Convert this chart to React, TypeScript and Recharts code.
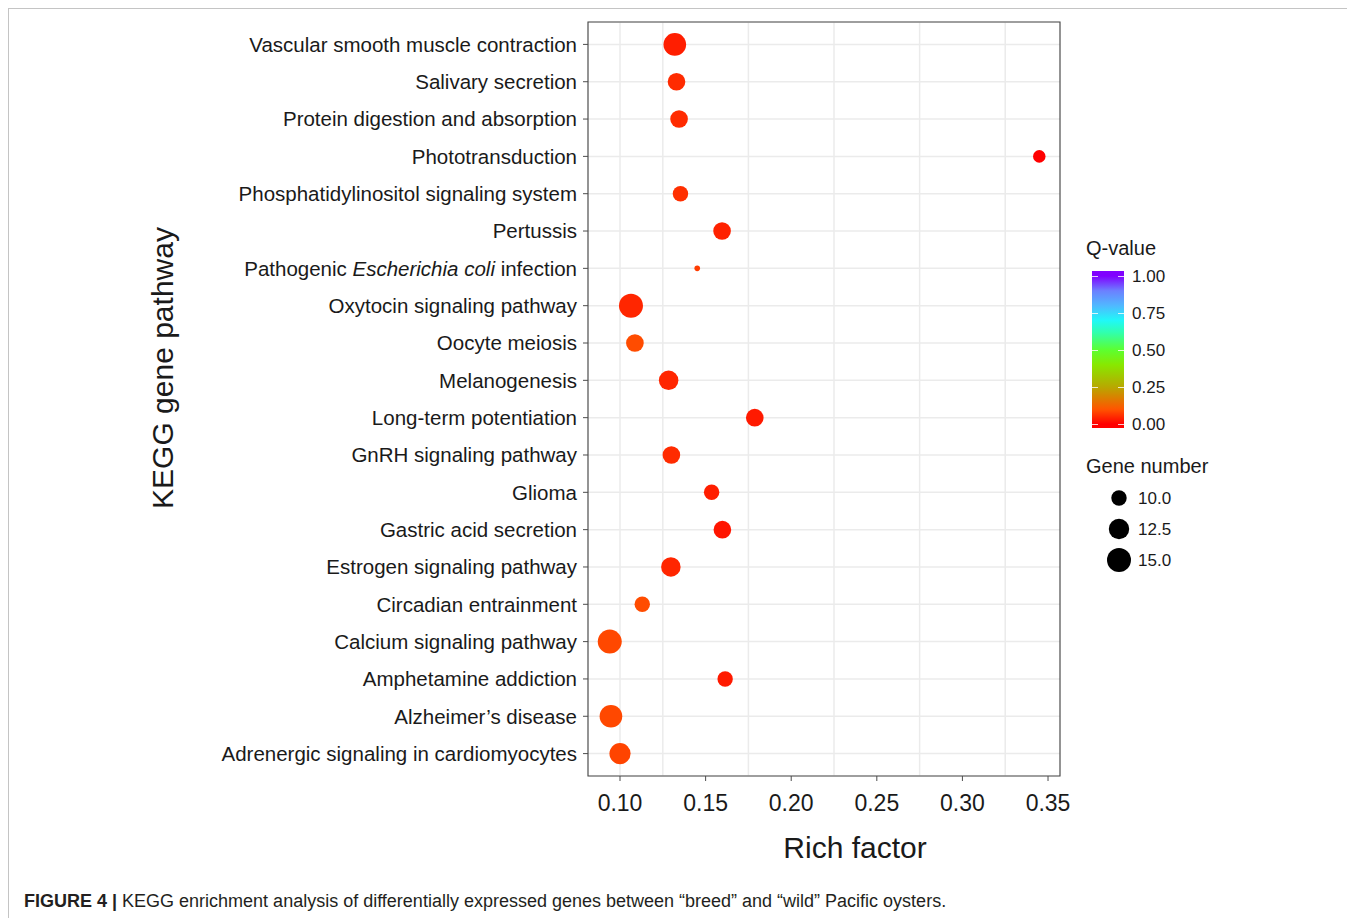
import React from "react"
import { ScatterChart, Scatter, XAxis, YAxis, CartesianGrid, ReferenceArea } from "recharts"

// pathways listed bottom -> top (y index 0 is the bottom row)
const pathways = [
  "Adrenergic signaling in cardiomyocytes",
  "Alzheimer’s disease",
  "Amphetamine addiction",
  "Calcium signaling pathway",
  "Circadian entrainment",
  "Estrogen signaling pathway",
  "Gastric acid secretion",
  "Glioma",
  "GnRH signaling pathway",
  "Long-term potentiation",
  "Melanogenesis",
  "Oocyte meiosis",
  "Oxytocin signaling pathway",
  "Pathogenic Escherichia coli infection",
  "Pertussis",
  "Phosphatidylinositol signaling system",
  "Phototransduction",
  "Protein digestion and absorption",
  "Salivary secretion",
  "Vascular smooth muscle contraction",
]

const richFactor = [
  0.100, 0.0947, 0.1614, 0.094, 0.113, 0.1297, 0.1598, 0.1535, 0.130, 0.1787,
  0.1284, 0.1087, 0.1064, 0.1451, 0.1596, 0.1353, 0.3449, 0.1345, 0.133, 0.132,
]

const geneNumber = [13, 14, 10, 15, 10, 12, 11, 10, 11, 11, 12, 11, 15, 8, 11, 10, 9, 11, 11, 14]

const qValue = [
  0.08, 0.085, 0.03, 0.085, 0.09, 0.045, 0.025, 0.035, 0.05, 0.03,
  0.045, 0.09, 0.045, 0.07, 0.04, 0.055, 0.0, 0.05, 0.05, 0.035,
]

const xMajor = [0.1, 0.15, 0.2, 0.25, 0.3, 0.35]
const xMinor = [0.125, 0.175, 0.225, 0.275, 0.325]
const xDomain = [0.0813, 0.357]
const qTicks = [0, 0.25, 0.5, 0.75, 1]
const geneLegend = [10, 12.5, 15]
const geneRange = [8, 15]

// Q-value colour ramp (red -> purple)
const colorStops: [number, string][] = [
  [0, "#ff0000"],
  [0.1, "#ff5500"],
  [0.25, "#b8a800"],
  [0.4, "#88e800"],
  [0.5, "#5cff30"],
  [0.62, "#30ffb0"],
  [0.7, "#20f8f8"],
  [0.8, "#50b8ff"],
  [0.9, "#6c80ff"],
  [1, "#8000ff"],
]

const hex = (c: string) => [1, 3, 5].map((i) => parseInt(c.slice(i, i + 2), 16))

const qColor = (q: number) => {
  for (let i = 1; i < colorStops.length; i++) {
    const [p1, c1] = colorStops[i]
    if (q <= p1) {
      const [p0, c0] = colorStops[i - 1]
      const t = (q - p0) / (p1 - p0)
      const a = hex(c0)
      const b = hex(c1)
      const m = a.map((v, k) => Math.round(v + (b[k] - v) * t))
      return `rgb(${m[0]}, ${m[1]}, ${m[2]})`
    }
  }
  return colorStops[colorStops.length - 1][1]
}

// point radius, area-style scaling like ggplot's scale_size
const radius = (g: number) => {
  const t = Math.max(0, (g - geneRange[0]) / (geneRange[1] - geneRange[0]))
  return 2.8 + 9.2 * Math.sqrt(t)
}

const data = pathways.map((name, i) => ({
  name,
  x: richFactor[i],
  y: i,
  gene: geneNumber[i],
  q: qValue[i],
}))

const PathwayTick = (props: any) => {
  const { x, y, payload } = props
  const name = pathways[payload.value] || ""
  const italic = "Escherichia coli"
  const k = name.indexOf(italic)
  return (
    <text x={x} y={y} dy="0.355em" textAnchor="end" fontSize={20.5} fill="#1a1a1a">
      {k < 0 ? (
        name
      ) : (
        <>
          <tspan>{name.slice(0, k)}</tspan>
          <tspan fontStyle="italic">{italic}</tspan>
          <tspan>{name.slice(k + italic.length)}</tspan>
        </>
      )}
    </text>
  )
}

const Dot = (props: any) => {
  const p = props.payload
  if (props.cx == null || !p) return null
  return <circle cx={props.cx} cy={props.cy} r={radius(p.gene)} fill={qColor(p.q)} />
}

// page coords -> local (bordered box content starts at 9,9)
const L = (v: number) => v - 9

export default function App() {
  const barTop = 271
  const barH = 157
  const q0 = 424
  const qSpan = 148
  const gradient = `linear-gradient(to top, ${colorStops
    .map(([p, c]) => `${c} ${((barTop + barH - q0 + qSpan * p) / barH) * 100}%`)
    .join(", ")})`

  return (
    <div
      style={{
        position: "relative",
        width: 1338,
        height: 910,
        border: "1px solid #c4c4c4",
        borderBottom: "none",
        fontFamily: "'Liberation Sans', Arial, sans-serif",
        color: "#1a1a1a",
        overflow: "hidden",
      }}
    >
      <div style={{ position: "absolute", left: 0, top: 0 }}>
        <ScatterChart width={1080} height={870} margin={{ top: 13, right: 29, bottom: 0, left: 0 }}>
          <CartesianGrid
            stroke="#ebebeb"
            strokeWidth={1.5}
            verticalValues={[...xMajor, ...xMinor]}
          />
          <XAxis
            type="number"
            dataKey="x"
            domain={xDomain}
            ticks={xMajor}
            allowDataOverflow
            height={103}
            tickSize={5}
            tickMargin={14}
            axisLine={false}
            tickLine={{ stroke: "#4d4d4d" }}
            tick={{ fontSize: 23, fill: "#1a1a1a" }}
            tickFormatter={(v: number) => v.toFixed(2)}
          />
          <YAxis
            type="number"
            dataKey="y"
            domain={[-0.6, pathways.length - 0.4]}
            ticks={pathways.map((_, i) => i)}
            allowDataOverflow
            width={579}
            tickSize={5}
            tickMargin={6}
            axisLine={false}
            tickLine={{ stroke: "#4d4d4d" }}
            tick={<PathwayTick />}
            interval={0}
          />
          <ReferenceArea
            x1={xDomain[0]}
            x2={xDomain[1]}
            y1={-0.6}
            y2={pathways.length - 0.4}
            fill="none"
            stroke="#4d4d4d"
            strokeWidth={1.2}
            ifOverflow="visible"
          />
          <Scatter data={data} shape={<Dot />} isAnimationActive={false} />
        </ScatterChart>
      </div>

      {/* axis titles */}
      <div
        style={{
          position: "absolute",
          left: L(855),
          top: L(833),
          transform: "translateX(-50%)",
          fontSize: 30,
          lineHeight: "30px",
          whiteSpace: "nowrap",
        }}
      >
        Rich factor
      </div>
      <div
        style={{
          position: "absolute",
          left: L(163),
          top: L(368),
          transform: "translate(-50%, -50%) rotate(-90deg)",
          fontSize: 30,
          lineHeight: "30px",
          whiteSpace: "nowrap",
        }}
      >
        KEGG gene pathway
      </div>

      {/* Q-value colour bar */}
      <div style={{ position: "absolute", left: L(1086), top: L(236), fontSize: 20, lineHeight: "24px" }}>
        Q-value
      </div>
      <div
        style={{
          position: "absolute",
          left: L(1092),
          top: L(barTop),
          width: 32,
          height: barH,
          background: gradient,
        }}
      />
      {qTicks.map((v) => {
        const y = q0 - qSpan * v
        return (
          <React.Fragment key={v}>
            <div style={{ position: "absolute", left: L(1092), top: L(y), width: 6, height: 1, background: "rgba(255,255,255,0.8)" }} />
            <div style={{ position: "absolute", left: L(1118), top: L(y), width: 6, height: 1, background: "rgba(255,255,255,0.8)" }} />
            <div style={{ position: "absolute", left: L(1132), top: L(y - 9), fontSize: 17, lineHeight: "20px" }}>
              {v.toFixed(2)}
            </div>
          </React.Fragment>
        )
      })}

      {/* gene number size legend */}
      <div style={{ position: "absolute", left: L(1086), top: L(454), fontSize: 20, lineHeight: "24px" }}>
        Gene number
      </div>
      {geneLegend.map((g, i) => {
        const cy = 498 + i * 31
        return (
          <React.Fragment key={g}>
            <svg style={{ position: "absolute", left: L(1105), top: L(cy - 14) }} width={28} height={28}>
              <circle cx={14} cy={14} r={radius(g)} fill="#000" />
            </svg>
            <div style={{ position: "absolute", left: L(1138), top: L(cy - 9), fontSize: 17, lineHeight: "20px" }}>
              {g.toFixed(1)}
            </div>
          </React.Fragment>
        )
      })}

      {/* caption */}
      <div
        style={{
          position: "absolute",
          left: L(24),
          top: L(891),
          fontSize: 18,
          lineHeight: "20px",
          whiteSpace: "nowrap",
          color: "#231f20",
        }}
      >
        <b>FIGURE 4 |</b> KEGG enrichment analysis of differentially expressed genes between “breed” and “wild” Pacific oysters.
      </div>
    </div>
  )
}
